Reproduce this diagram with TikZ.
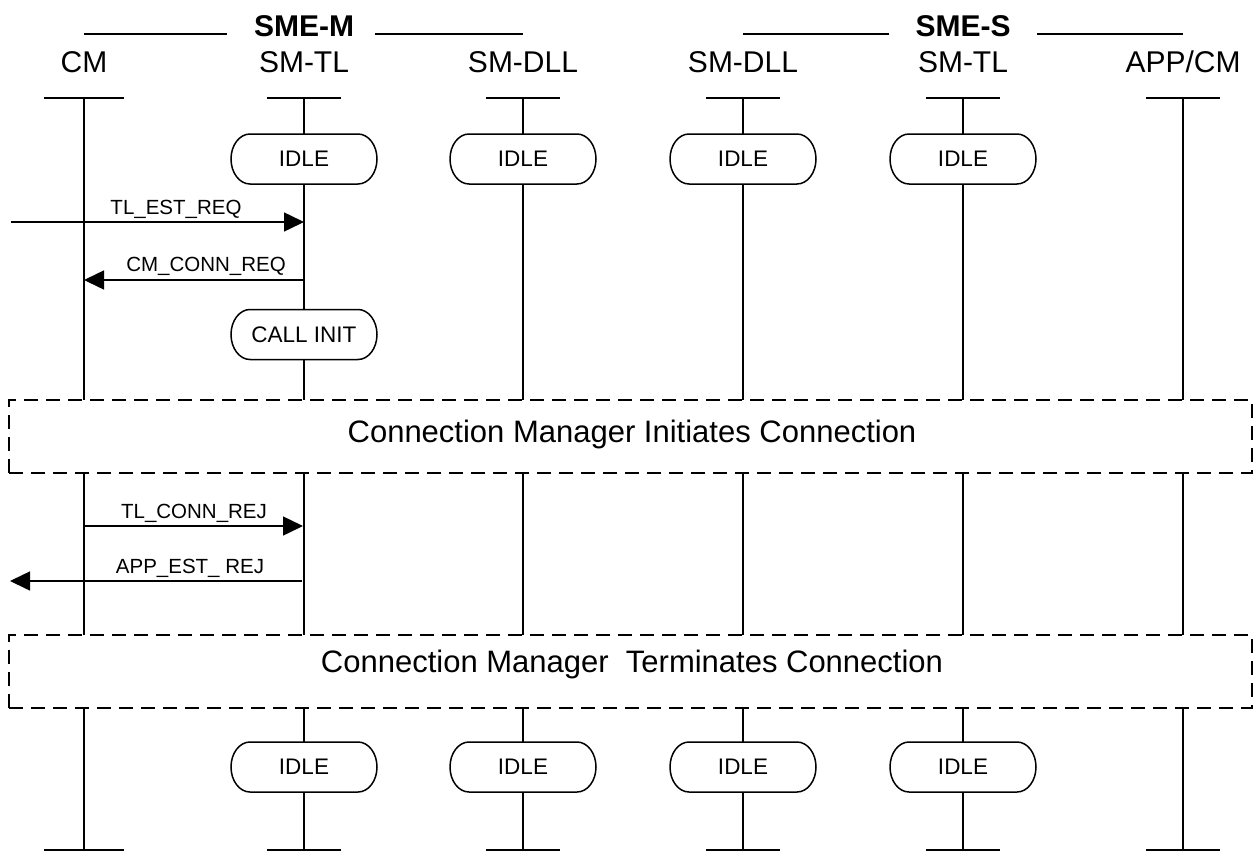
\documentclass[tikz,border=0pt]{standalone}
\usepackage{fontspec}
\setmainfont{Liberation Sans}
\usetikzlibrary{arrows.meta,calc}
\newcommand\stbox[4]{%
  \draw[ln, fill=white] (#2-54,#3-25) -- (#2+54,#3-25)
    arc[start angle=90,end angle=-90,x radius=19pt,y radius=25pt]
    -- (#2-54,#3+25)
    arc[start angle=270,end angle=90,x radius=19pt,y radius=25pt] -- cycle;
  \node[stext] (#1) at (#2,#3) {#4};
}
\begin{document}
\begin{tikzpicture}[x=1pt,y=-1pt,
  ln/.style={line width=1.5pt},
  lbl/.style={font=\fontsize{30}{36}\selectfont, anchor=base, inner sep=0pt},
  hdr/.style={font=\bfseries\fontsize{30}{36}\selectfont, anchor=base, inner sep=0pt},
  msg/.style={font=\fontsize{20.5}{24}\selectfont, anchor=base, inner sep=0pt},
  arr/.style={ln, -{Triangle[length=20pt,width=19pt]}},
  stext/.style={font=\fontsize{22.5}{27}\selectfont, inner sep=0pt},
  dbox/.style={draw, line width=2pt, dash pattern=on 14pt off 8pt, fill=white,
    minimum width=1243pt, minimum height=73pt, inner sep=0pt},
  dtext/.style={font=\fontsize{31}{37}\selectfont, anchor=base, inner sep=0pt}
]
\useasboundingbox (0,0) rectangle (1254,857);

% header
\node[hdr] (smem) at (304,36) {SME-M};
\node[hdr] (smes) at (963,36) {SME-S};
\coordinate (hm1) at (84,34);  \coordinate (hm2) at (227,34);
\coordinate (hm3) at (375,34); \coordinate (hm4) at (523,34);
\coordinate (hs1) at (743,34); \coordinate (hs2) at (889,34);
\coordinate (hs3) at (1037,34); \coordinate (hs4) at (1183,34);
\draw[ln] (hm1) -- (hm2); \draw[ln] (hm3) -- (hm4);
\draw[ln] (hs1) -- (hs2); \draw[ln] (hs3) -- (hs4);

% lifelines
\foreach \n/\x/\h/\t in {cm/84/40/{CM}, tlm/304/37/{SM-TL}, dlm/523/37/{SM-DLL},
    dls/743/37/{SM-DLL}, tls/963/37/{SM-TL}, app/1183/37/{APP/CM}} {
  \node[lbl] (\n-lab) at (\x,72) {\t};
  \coordinate (\n-t) at (\x,98);
  \coordinate (\n-b) at (\x,850);
  \draw[ln] (\n-t) -- (\n-b);
  \draw[ln] ([xshift=-\h pt]\n-t) -- ([xshift=\h pt]\n-t);
  \draw[ln] ([xshift=-\h pt]\n-b) -- ([xshift=\h pt]\n-b);
}

% top states
\stbox{s1}{304}{159}{IDLE}
\stbox{s2}{523}{159}{IDLE}
\stbox{s3}{743}{159}{IDLE}
\stbox{s4}{963}{159}{IDLE}
\stbox{s5}{304}{334.5}{CALL INIT}

% bottom states
\stbox{b1}{304}{767}{IDLE}
\stbox{b2}{523}{767}{IDLE}
\stbox{b3}{743}{767}{IDLE}
\stbox{b4}{963}{767}{IDLE}

% dashed boxes
\node[dbox] (box1) at (630.5,436.5) {};
\node[dtext] (box1t) at (632,442) {Connection Manager Initiates Connection};
\node[dbox] (box2) at (630.5,671.5) {};
\node[dtext] (box2t) at (632,672) {Connection Manager~~Terminates Connection};

% messages
\coordinate (m1s) at (11,222);  \coordinate (m1e) at (304,222);
\draw[arr] (m1s) -- (m1e);
\node[msg] (m1l) at (176,214) {TL\_EST\_REQ};

\coordinate (m2s) at (304,280); \coordinate (m2e) at (84,280);
\draw[arr] (m2s) -- (m2e);
\node[msg] (m2l) at (206,271) {CM\_CONN\_REQ};

\coordinate (m3s) at (84,526);  \coordinate (m3e) at (303,526);
\draw[arr] (m3s) -- (m3e);
\node[msg] (m3l) at (194,518) {TL\_CONN\_REJ};

\coordinate (m4s) at (302,581); \coordinate (m4e) at (10,581);
\draw[arr] (m4s) -- (m4e);
\node[msg] (m4l) at (190,573) {APP\_EST\_ REJ};
\end{tikzpicture}
\end{document}
